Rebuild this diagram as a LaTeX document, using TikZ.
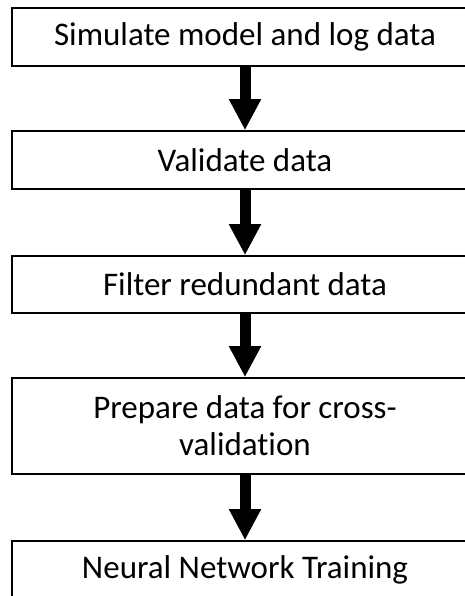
\documentclass[tikz,border=0pt]{standalone}
\usepackage{fontspec}
\setmainfont{Carlito}[Ligatures=NoCommon]
\usetikzlibrary{positioning,arrows.meta}

\tikzset{
  stepbox/.style={draw=black, line width=1.6pt, fill=white,
    minimum width=466pt, align=center, inner sep=0pt,
    font=\fontsize{33}{37}\selectfont},
  flowarrow/.style={line width=11pt, -{Triangle[width=30pt,length=31pt]}}
}

\begin{document}
\begin{tikzpicture}[x=1pt,y=1pt]
  % Rahmen der Abbildung
  \path[use as bounding box, clip] (0,0) rectangle (465,-596);

  % Kästen
  \foreach \txt/\yc/\hh [count=\i] in {
    Simulate model and log data/-37/58,
    Validate data/-160/58,
    Filter redundant data/-284.5/57,
    {Prepare data for cross-\\validation}/-426/96,
    Neural Network Training/-570/58%
  }{
    \node[stepbox, minimum height=\hh pt] (b\i) at (245,\yc) {\txt};
  }

  % Pfeile
  \foreach \a/\b in {b1/b2, b2/b3, b3/b4, b4/b5}
    \draw[flowarrow] (\a.south) -- (\b.north);
\end{tikzpicture}
\end{document}
